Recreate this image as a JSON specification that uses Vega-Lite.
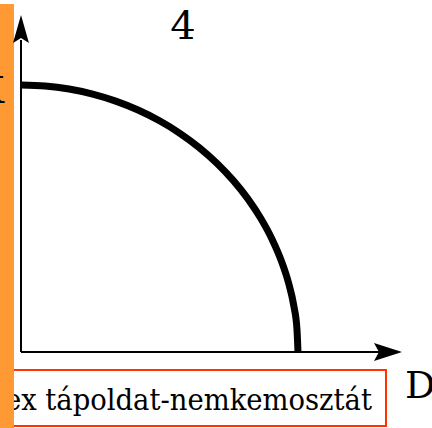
{
  "$schema": "https://vega.github.io/schema/vega-lite/v6.json",
  "width": 432,
  "height": 428,
  "autosize": {"type": "none"},
  "padding": 0,
  "background": "white",
  "config": {"view": {"stroke": null}},
  "layer": [
    {
      "data": {"values": [{"x1": -0.08, "x2": 1.3177, "y1": -0.0674, "y2": -0.2772}]},
      "mark": {"type": "rect", "fill": "white", "stroke": "#FF3300", "strokeWidth": 2},
      "encoding": {
        "x": {"field": "x1", "type": "quantitative", "scale": {"domain": [-0.0758, 1.4838], "nice": false, "zero": false}, "axis": null},
        "x2": {"field": "x2"},
        "y": {"field": "y1", "type": "quantitative", "scale": {"domain": [-0.2846, 1.3184], "nice": false, "zero": false}, "axis": null},
        "y2": {"field": "y2"}
      }
    },
    {
      "data": {"values": [{"x": 1.2671, "y": -0.2172, "label": "ex tápoldat-nemkemosztát"}]},
      "mark": {"type": "text", "font": "DejaVu Serif Condensed", "fontSize": 30.5, "align": "right", "baseline": "alphabetic", "color": "black"},
      "encoding": {
        "x": {"field": "x", "type": "quantitative"},
        "y": {"field": "y", "type": "quantitative"},
        "text": {"field": "label"}
      }
    },
    {
      "data": {"values": [{"x1": -0.0758, "x2": -0.0253, "y1": 1.3034, "y2": -0.2846}]},
      "mark": {"type": "rect", "fill": "#FF9933"},
      "encoding": {
        "x": {"field": "x1", "type": "quantitative"},
        "x2": {"field": "x2"},
        "y": {"field": "y1", "type": "quantitative"},
        "y2": {"field": "y2"}
      }
    },
    {
      "data": {"values": [
        {"x1": 0, "y1": 0, "x2": 0, "y2": 1.1685},
        {"x1": 0, "y1": 0, "x2": 1.3394, "y2": 0}
      ]},
      "mark": {"type": "rule", "color": "black", "strokeWidth": 2},
      "encoding": {
        "x": {"field": "x1", "type": "quantitative"},
        "y": {"field": "y1", "type": "quantitative"},
        "x2": {"field": "x2"},
        "y2": {"field": "y2"}
      }
    },
    {
      "data": {"values": [{"x": 0, "y": 1.2097}]},
      "mark": {"type": "point", "shape": "M0,-1L0.57,1L0,0.64L-0.57,1Z", "filled": true, "size": 784, "color": "black", "opacity": 1, "strokeWidth": 0},
      "encoding": {
        "x": {"field": "x", "type": "quantitative"},
        "y": {"field": "y", "type": "quantitative"}
      }
    },
    {
      "data": {"values": [{"x": 1.3249, "y": 0}]},
      "mark": {"type": "point", "shape": "M1,0L-1,-0.64L-0.64,0L-1,0.64Z", "filled": true, "size": 784, "color": "black", "opacity": 1, "strokeWidth": 0},
      "encoding": {
        "x": {"field": "x", "type": "quantitative"},
        "y": {"field": "y", "type": "quantitative"}
      }
    },
    {
      "data": {"values": [
        {"i": 0, "x": 0, "y": 1},
        {"i": 1, "x": 0.0872, "y": 0.9962},
        {"i": 2, "x": 0.1736, "y": 0.9848},
        {"i": 3, "x": 0.2588, "y": 0.9659},
        {"i": 4, "x": 0.342, "y": 0.9397},
        {"i": 5, "x": 0.4226, "y": 0.9063},
        {"i": 6, "x": 0.5, "y": 0.866},
        {"i": 7, "x": 0.5736, "y": 0.8192},
        {"i": 8, "x": 0.6428, "y": 0.766},
        {"i": 9, "x": 0.7071, "y": 0.7071},
        {"i": 10, "x": 0.766, "y": 0.6428},
        {"i": 11, "x": 0.8192, "y": 0.5736},
        {"i": 12, "x": 0.866, "y": 0.5},
        {"i": 13, "x": 0.9063, "y": 0.4226},
        {"i": 14, "x": 0.9397, "y": 0.342},
        {"i": 15, "x": 0.9659, "y": 0.2588},
        {"i": 16, "x": 0.9848, "y": 0.1736},
        {"i": 17, "x": 0.9962, "y": 0.0872},
        {"i": 18, "x": 1, "y": 0}
      ]},
      "mark": {"type": "line", "color": "black", "strokeWidth": 7, "interpolate": "monotone", "strokeCap": "butt"},
      "encoding": {
        "x": {"field": "x", "type": "quantitative"},
        "y": {"field": "y", "type": "quantitative"},
        "order": {"field": "i", "type": "quantitative"}
      }
    },
    {
      "data": {"values": [
        {"x": 0.5848, "y": 1.1723, "label": "4", "a": "center", "s": 40},
        {"x": 1.3863, "y": -0.1723, "label": "D", "a": "left", "s": 38}
      ]},
      "mark": {"type": "text", "font": "DejaVu Serif", "baseline": "alphabetic", "color": "black", "align": {"expr": "datum.a"}, "fontSize": {"expr": "datum.s"}},
      "encoding": {
        "x": {"field": "x", "type": "quantitative"},
        "y": {"field": "y", "type": "quantitative"},
        "text": {"field": "label"}
      }
    },
    {
      "data": {"values": [{"x": -0.0614, "y": 0.9326, "label": "K"}]},
      "mark": {"type": "text", "font": "DejaVu Serif", "fontSize": 38, "align": "right", "baseline": "alphabetic", "color": "black"},
      "encoding": {
        "x": {"field": "x", "type": "quantitative"},
        "y": {"field": "y", "type": "quantitative"},
        "text": {"field": "label"}
      }
    }
  ]
}
